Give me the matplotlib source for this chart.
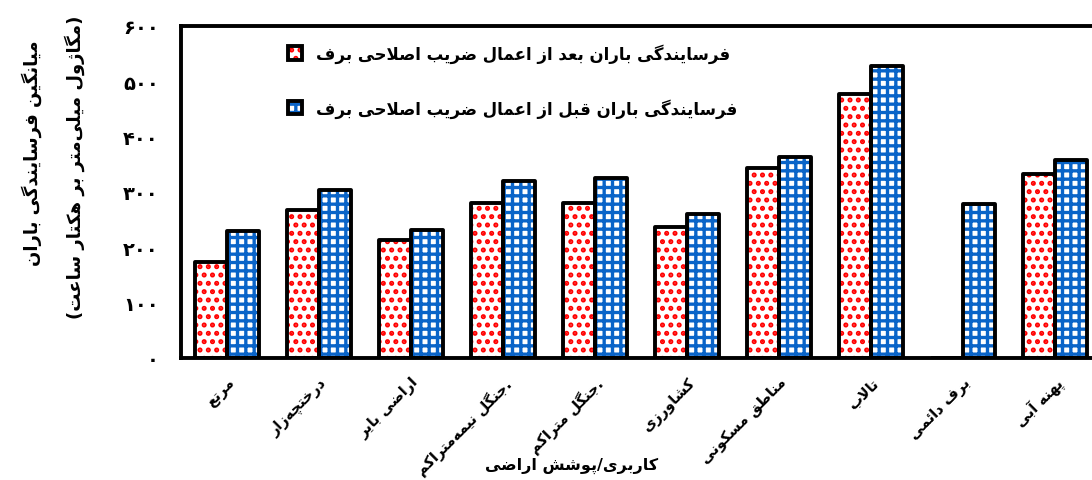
import matplotlib
matplotlib.use('Agg')
import matplotlib.pyplot as plt
import numpy as np
from matplotlib.legend_handler import HandlerTuple

# ---------------- data ----------------
categories = ['مرتع', 'درختچه‌زار', 'اراضی بایر', '.جنگل نیمه‌متراکم', '.جنگل متراکم',
              'کشاورزی', 'مناطق مسکونی', 'تالاب', 'برف دائمی', 'پهنه آبی']
after_snow = [173, 267, 214, 281, 281, 236, 344, 477, 0, 332]
before_snow = [229, 303, 232, 319, 326, 261, 364, 528, 279, 357]
yticks = [0, 100, 200, 300, 400, 500, 600]
series_labels = ['فرسایندگی باران بعد از اعمال ضریب اصلاحی برف',
                 'فرسایندگی باران قبل از اعمال ضریب اصلاحی برف']
xlabel_text = 'کاربری/پوشش اراضی'
ylabel_line1 = 'میانگین فرسایندگی باران'
ylabel_line2 = '(مگاژول میلی‌متر بر هکتار ساعت)'

# ---------------- simple Persian shaping ----------------
FORMS = {
    'ا': (0xFE8D, 0xFE8E, None, None), 'آ': (0xFE81, 0xFE82, None, None),
    'ب': (0xFE8F, 0xFE90, 0xFE91, 0xFE92), 'پ': (0xFB56, 0xFB57, 0xFB58, 0xFB59),
    'ت': (0xFE95, 0xFE96, 0xFE97, 0xFE98), 'ث': (0xFE99, 0xFE9A, 0xFE9B, 0xFE9C),
    'ج': (0xFE9D, 0xFE9E, 0xFE9F, 0xFEA0), 'چ': (0xFB7A, 0xFB7B, 0xFB7C, 0xFB7D),
    'ح': (0xFEA1, 0xFEA2, 0xFEA3, 0xFEA4), 'خ': (0xFEA5, 0xFEA6, 0xFEA7, 0xFEA8),
    'د': (0xFEA9, 0xFEAA, None, None), 'ذ': (0xFEAB, 0xFEAC, None, None),
    'ر': (0xFEAD, 0xFEAE, None, None), 'ز': (0xFEAF, 0xFEB0, None, None),
    'ژ': (0xFB8A, 0xFB8B, None, None),
    'س': (0xFEB1, 0xFEB2, 0xFEB3, 0xFEB4), 'ش': (0xFEB5, 0xFEB6, 0xFEB7, 0xFEB8),
    'ص': (0xFEB9, 0xFEBA, 0xFEBB, 0xFEBC), 'ض': (0xFEBD, 0xFEBE, 0xFEBF, 0xFEC0),
    'ط': (0xFEC1, 0xFEC2, 0xFEC3, 0xFEC4), 'ظ': (0xFEC5, 0xFEC6, 0xFEC7, 0xFEC8),
    'ع': (0xFEC9, 0xFECA, 0xFECB, 0xFECC), 'غ': (0xFECD, 0xFECE, 0xFECF, 0xFED0),
    'ف': (0xFED1, 0xFED2, 0xFED3, 0xFED4), 'ق': (0xFED5, 0xFED6, 0xFED7, 0xFED8),
    'ک': (0xFB8E, 0xFB8F, 0xFB90, 0xFB91), 'گ': (0xFB92, 0xFB93, 0xFB94, 0xFB95),
    'ل': (0xFEDD, 0xFEDE, 0xFEDF, 0xFEE0), 'م': (0xFEE1, 0xFEE2, 0xFEE3, 0xFEE4),
    'ن': (0xFEE5, 0xFEE6, 0xFEE7, 0xFEE8), 'و': (0xFEED, 0xFEEE, None, None),
    'ه': (0xFEE9, 0xFEEA, 0xFEEB, 0xFEEC), 'ی': (0xFBFC, 0xFBFD, 0xFBFE, 0xFBFF),
    'ئ': (0xFE89, 0xFE8A, 0xFE8B, 0xFE8C),
}
LAM_ALEF = {'ا': (0xFEFB, 0xFEFC), 'آ': (0xFEF5, 0xFEF6)}
MIRROR = {'(': ')', ')': '('}


def dual(c):
    return c in FORMS and FORMS[c][2] is not None


def joins(c):
    return c in FORMS


def shape(text):
    out = []
    i = 0
    n = len(text)
    while i < n:
        c = text[i]
        if c == '\u200c':
            i += 1
            continue
        if c not in FORMS:
            out.append(MIRROR.get(c, c))
            i += 1
            continue
        prev = text[i - 1] if i > 0 else ''
        jp = dual(prev)
        if c == 'ل' and i + 1 < n and text[i + 1] in LAM_ALEF:
            iso, fin = LAM_ALEF[text[i + 1]]
            out.append(chr(fin if jp else iso))
            i += 2
            continue
        nxt = text[i + 1] if i + 1 < n else ''
        jn = dual(c) and joins(nxt)
        iso, fin, ini, med = FORMS[c]
        if jp and jn:
            g = med
        elif jp:
            g = fin
        elif jn:
            g = ini
        else:
            g = iso
        out.append(chr(g))
        i += 1
    return ''.join(reversed(out))


def fa_digits(v):
    return ''.join(chr(0x06F0 + int(d)) for d in str(int(v)))


# ---------------- figure ----------------
plt.rcParams['font.family'] = ['DejaVu Sans']
plt.rcParams['hatch.linewidth'] = 2.4

W, H = 1092, 481
fig = plt.figure(figsize=(W / 100, H / 100), dpi=100)
ax = fig.add_axes([181 / W, 1 - 359 / H, 920 / W, 332 / H])

x = np.arange(len(categories))
bw = 0.35
red = '#ff0000'
blue = '#0a64c8'

h1 = ax.bar(x - bw / 2, after_snow, bw, facecolor='white', edgecolor=red, hatch='..', linewidth=0, zorder=2)
o1 = ax.bar(x - bw / 2, after_snow, bw, fill=False, edgecolor='black', linewidth=2.8,
            joinstyle='round', zorder=3)
h2 = ax.bar(x + bw / 2, before_snow, bw, facecolor='white', edgecolor=blue, hatch='++', linewidth=0, zorder=2)
o2 = ax.bar(x + bw / 2, before_snow, bw, fill=False, edgecolor='black', linewidth=2.8,
            joinstyle='round', zorder=3)

ax.set_xlim(-0.5, len(categories) - 0.5)
ax.set_ylim(0, 600)
ax.set_yticks(yticks)
ax.set_yticklabels([fa_digits(v) for v in yticks], fontsize=14, fontweight='bold')
ax.set_xticks(x)
ax.set_xticklabels([shape(c) for c in categories], rotation=45, ha='right', va='top',
                   rotation_mode='anchor', fontsize=10.5, fontweight='bold')
ax.tick_params(axis='both', length=0)
ax.tick_params(axis='y', pad=16)
ax.tick_params(axis='x', pad=12)
for s in ax.spines.values():
    s.set_linewidth(2.8)

leg_handles = [(h1.patches[0], o1.patches[0]), (h2.patches[0], o2.patches[0])]
ax.legend(leg_handles, [shape(s) for s in series_labels],
          handler_map={tuple: HandlerTuple(ndivide=1, pad=0)},
          loc='upper left', bbox_to_anchor=(0.10, 0.993), frameon=False,
          prop={'size': 12, 'weight': 'bold'}, handlelength=0.85, handleheight=0.85,
          labelspacing=2.1, handletextpad=0.8)

fig.text(572 / W, 1 - 466 / H, shape(xlabel_text), ha='center', va='center',
         fontsize=11.5, fontweight='bold')
fig.text(32 / W, 1 - 153 / H, shape(ylabel_line1), ha='center', va='center',
         rotation=90, fontsize=13, fontweight='bold')
fig.text(75 / W, 1 - 167 / H, shape(ylabel_line2), ha='center', va='center',
         rotation=90, fontsize=13, fontweight='bold')

fig.savefig('out.png', dpi=100)
